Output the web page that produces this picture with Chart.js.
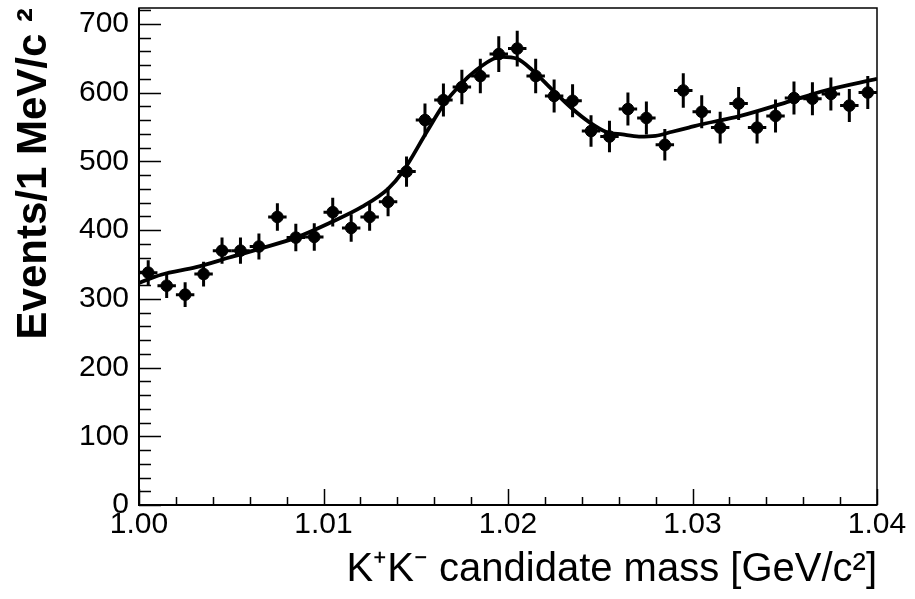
<!DOCTYPE html>
<html>
<head>
<meta charset="utf-8">
<script src="https://cdn.jsdelivr.net/npm/chart.js@4.4.1/dist/chart.umd.min.js"></script>
<style>
html,body{margin:0;padding:0;background:#fff;}
#wrap{width:915px;height:599px;}
</style>
</head>
<body>
<div id="wrap"><canvas id="c" width="915" height="599"></canvas></div>
<script>
// bin centres (GeV/c^2)
const massBins = [1.0005,1.0015,1.0025,1.0035,1.0045,1.0055,1.0065,1.0075,1.0085,1.0095,
                  1.0105,1.0115,1.0125,1.0135,1.0145,1.0155,1.0165,1.0175,1.0185,1.0195,
                  1.0205,1.0215,1.0225,1.0235,1.0245,1.0255,1.0265,1.0275,1.0285,1.0295,
                  1.0305,1.0315,1.0325,1.0335,1.0345,1.0355,1.0365,1.0375,1.0385,1.0395];
// events per bin
const events = [338,319,306,336,370,370,376,419,389,390,
                426,403,419,441,485,560,589,608,624,656,
                664,624,595,588,544,536,576,563,524,603,
                572,549,584,549,566,592,591,598,581,600];
// vertical error (events)
const eventErr = [18,18,18,18,19,19,19,20,20,20,
                  21,20,20,21,22,24,24,25,25,26,
                  26,25,24,24,23,23,24,24,23,25,
                  24,23,24,23,24,24,24,24,24,24];
// half bin width (GeV/c^2)
const binHalf = [0.0005];
// fit curve
const fitMass = [1.0000,1.0012,1.0031,1.0049,1.0067,1.0085,1.0103,1.0121,1.0135,1.0143,
                 1.0156,1.0165,1.0174,1.0183,1.0192,1.0197,1.0205,1.0213,1.0224,1.0235,
                 1.0244,1.0253,1.0262,1.0271,1.0280,1.0289,1.0298,1.0307,1.0316,1.0326,
                 1.0350,1.0372,1.0400];
const fitValue = [323,335,346,360,374,389,410,434,460,485,
                  543,582,611,633,649,652,649,633,604,576,
                  557,543,539,536,537,543,549,555,560,566,
                  585,603,620];
// axis ticks
const xTickLabels = [1.00,1.01,1.02,1.03,1.04];
const yTickLabels = [0,100,200,300,400,500,600,700];
const xMinorStep = 0.002;
const yMinorStep = 20;

const FONT = '"Liberation Sans", Arial, Helvetica, sans-serif';

const decor = {
  id: 'decor',
  beforeDatasetsDraw(chart) {
    const ctx = chart.ctx, xs = chart.scales.x, ys = chart.scales.y;
    ctx.save();
    ctx.strokeStyle = '#000';
    ctx.lineWidth = 3;
    ctx.lineCap = 'butt';
    for (let i = 0; i < massBins.length; i++) {
      const px = xs.getPixelForValue(massBins[i]);
      const py = ys.getPixelForValue(events[i]);
      const x0 = xs.getPixelForValue(massBins[i] - binHalf[0]);
      const x1 = xs.getPixelForValue(massBins[i] + binHalf[0]);
      const y0 = ys.getPixelForValue(events[i] - eventErr[i]);
      const y1 = ys.getPixelForValue(events[i] + eventErr[i]);
      ctx.beginPath();
      ctx.moveTo(x0, py); ctx.lineTo(x1, py);
      ctx.moveTo(px, y0); ctx.lineTo(px, y1);
      ctx.stroke();
    }
    ctx.restore();
  },
  afterDraw(chart) {
    const ctx = chart.ctx, a = chart.chartArea, xs = chart.scales.x, ys = chart.scales.y;
    ctx.save();
    ctx.strokeStyle = '#000';
    // frame
    ctx.lineWidth = 1.5;
    ctx.strokeRect(a.left, a.top, a.right - a.left, a.bottom - a.top);
    ctx.lineWidth = 2;
    ctx.beginPath();
    ctx.moveTo(a.left, a.top); ctx.lineTo(a.left, a.bottom); ctx.lineTo(a.right, a.bottom);
    ctx.stroke();
    // x ticks (inside)
    ctx.lineWidth = 1.5;
    ctx.beginPath();
    for (let v = xs.min, k = 0; v <= xs.max + 1e-9; k++, v = xs.min + k * xMinorStep) {
      const major = k % 5 === 0;
      const px = Math.round(xs.getPixelForValue(v)) + 0.5;
      ctx.moveTo(px, a.bottom);
      ctx.lineTo(px, a.bottom - (major ? 16 : 8));
    }
    // y ticks (inside)
    for (let v = 0, k = 0; v <= ys.max; k++, v = k * yMinorStep) {
      const major = k % 5 === 0;
      const py = Math.round(ys.getPixelForValue(v)) + 0.5;
      ctx.moveTo(a.left, py);
      ctx.lineTo(a.left + (major ? 22 : 12), py);
    }
    ctx.stroke();
    ctx.restore();
  }
};

new Chart(document.getElementById('c'), {
  data: {
    datasets: [
      {
        type: 'line',
        label: 'fit',
        data: fitMass.map((m, i) => ({x: m, y: fitValue[i]})),
        borderColor: '#000',
        borderWidth: 3.8,
        pointRadius: 0,
        cubicInterpolationMode: 'monotone',
        fill: false,
        order: 1
      },
      {
        type: 'scatter',
        label: 'data',
        data: massBins.map((m, i) => ({x: m, y: events[i]})),
        backgroundColor: '#000',
        borderColor: '#000',
        pointRadius: 5.8,
        pointStyle: 'circle',
        order: 0
      }
    ]
  },
  options: {
    responsive: false,
    devicePixelRatio: 1,
    animation: false,
    layout: {padding: {top: 8, right: 38, left: 0, bottom: 0}},
    plugins: {legend: {display: false}, tooltip: {enabled: false}},
    scales: {
      x: {
        type: 'linear',
        min: 1.00, max: 1.04,
        afterBuildTicks: s => { s.ticks = xTickLabels.map(v => ({value: v})); },
        afterFit: s => { s.height = 94; s.paddingLeft = 0; s.paddingRight = 0; },
        grid: {display: false, drawTicks: false},
        border: {display: false},
        ticks: {
          color: '#000', padding: 2, maxRotation: 0, autoSkip: false,
          font: {family: FONT, size: 30},
          callback: v => Number(v).toFixed(2)
        },
        title: {
          display: true, align: 'end', color: '#000',
          text: 'K\u207AK\u207B candidate mass [GeV/c\u00B2]',
          font: {family: FONT, size: 40},
          padding: {top: 0, bottom: 5}
        }
      },
      y: {
        type: 'linear',
        min: 0, max: 723,
        afterBuildTicks: s => { s.ticks = yTickLabels.map(v => ({value: v})); },
        afterFit: s => { s.width = 139; s.paddingTop = 0; s.paddingBottom = 0; },
        grid: {display: false, drawTicks: false},
        border: {display: false},
        ticks: {
          color: '#000', padding: 10, autoSkip: false,
          font: {family: FONT, size: 30},
          callback: v => String(v)
        },
        title: {
          display: true, align: 'end', color: '#000',
          text: 'Events/1 MeV/c \u00B2',
          font: {family: FONT, size: 42, weight: 'bold'},
          padding: {top: 9, bottom: 0}
        }
      }
    }
  },
  plugins: [decor]
});
</script>
</body>
</html>
